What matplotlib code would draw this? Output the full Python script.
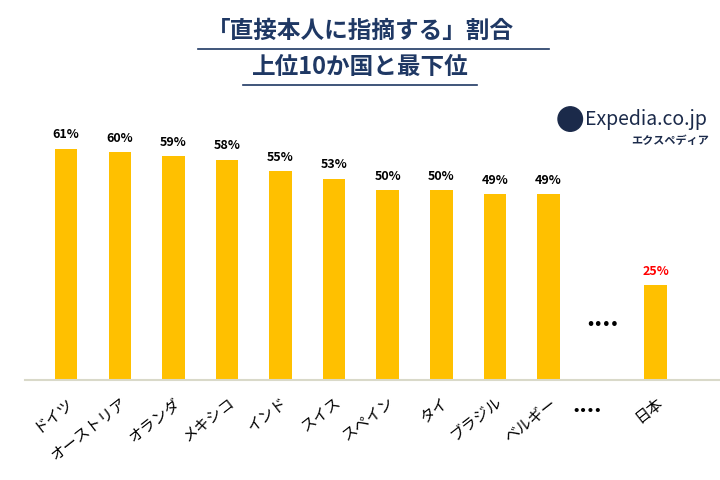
import matplotlib
matplotlib.use('Agg')
import matplotlib.pyplot as plt
from matplotlib.patches import Ellipse

plt.rcParams['font.family'] = ['Noto Sans CJK JP', 'DejaVu Sans']

countries = ['ドイツ', 'オーストリア', 'オランダ', 'メキシコ', 'インド', 'スイス',
             'スペイン', 'タイ', 'ブラジル', 'ベルギー', '....', '日本']
values = [61, 60, 59, 58, 55, 53, 50, 50, 49, 49, None, 25]
label_colors = ['black'] * 11 + ['red']

fig = plt.figure(figsize=(7.2, 4.8), dpi=100)
ax = fig.add_axes([0.035, 0.208, 0.965, 0.583])

bar_color = '#FFC000'
for i, v in enumerate(values):
    if v is None:
        ax.text(i, 16, '....', ha='center', va='center', fontsize=18, fontweight='bold')
        continue
    ax.bar(i, v, width=0.42, color=bar_color)
    ax.text(i, v + 2, f'{v}%', ha='center', va='bottom', fontsize=9, fontweight='bold',
            color=label_colors[i])

ax.set_xlim(-0.765, 12.2)
ax.set_ylim(0, 73.7)
ax.set_xticks(range(len(countries)))
ax.set_xticklabels(countries, rotation=38, ha='right', rotation_mode='anchor', fontsize=11)
ax.get_xticklabels()[10].set_fontsize(16)
ax.get_xticklabels()[10].set_fontweight('bold')
ax.get_xticklabels()[10].set_rotation(0)
ax.tick_params(axis='x', length=0, pad=10)
ax.set_yticks([])
for s in ['top', 'right', 'left']:
    ax.spines[s].set_visible(False)
ax.spines['bottom'].set_color('#d9d9c9')
ax.spines['bottom'].set_linewidth(1.5)

title_color = '#1F3864'
fig.text(0.5, 0.935, '「直接本人に指摘する」割合', ha='center', va='center', fontsize=17,
         fontweight='bold', color=title_color)
fig.text(0.5, 0.86, '上位10か国と最下位', ha='center', va='center', fontsize=17,
         fontweight='bold', color=title_color)
fig.add_artist(plt.Line2D([0.275, 0.762], [0.898, 0.898], color=title_color, lw=1.2))
fig.add_artist(plt.Line2D([0.338, 0.662], [0.823, 0.823], color=title_color, lw=1.2))

# logo
logo_color = '#1B2A4A'
fig.add_artist(Ellipse((0.792, 0.752), 0.034, 0.051, transform=fig.transFigure,
                       color=logo_color))
fig.text(0.813, 0.752, 'Expedia.co.jp', ha='left', va='center', fontsize=14, color=logo_color)
fig.text(0.985, 0.708, 'エクスペディア', ha='right', va='center', fontsize=8,
         fontweight='bold', color=logo_color)

fig.savefig('out.png', dpi=100)
